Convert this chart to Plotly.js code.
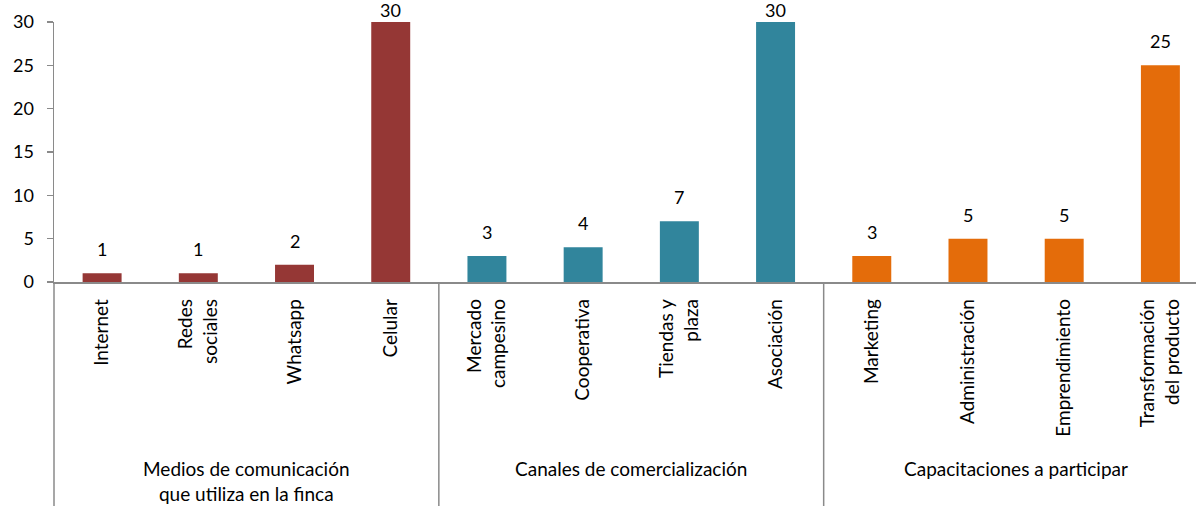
<!DOCTYPE html>
<html>
<head>
<meta charset="utf-8">
<script src="https://cdn.plot.ly/plotly-3.0.1.min.js"></script>
<style>html,body{margin:0;padding:0;background:#fff;}#chart{width:1196px;height:506px;}</style>
</head>
<body>
<div id="chart"></div>
<script>
// Data
const groupNames = ["Medios de comunicación<br>que utiliza en la finca", "Canales de comercialización", "Capacitaciones a participar"];
const mediosCats = ["Internet", "Redes<br>sociales", "Whatsapp", "Celular"];
const mediosVals = [1, 1, 2, 30];
const canalesCats = ["Mercado<br>campesino", "Cooperativa", "Tiendas y<br>plaza", "Asociación"];
const canalesVals = [3, 4, 7, 30];
const capacCats = ["Marketing", "Administración", "Emprendimiento", "Transformación<br>del producto"];
const capacVals = [3, 5, 5, 25];
const groupColors = ["#953735", "#31859C", "#E46C0A"];
const yTicks = [0, 5, 10, 15, 20, 25, 30];

const FONT = "Lato, 'Open Sans', sans-serif";
const FS = 19;
const groups = [
  {cats: mediosCats, vals: mediosVals},
  {cats: canalesCats, vals: canalesVals},
  {cats: capacCats, vals: capacVals}
];

const allCats = [].concat(mediosCats, canalesCats, capacCats);
const traces = groups.map((g, i) => ({
  type: "bar",
  x: g.cats,
  y: g.vals,
  marker: {color: groupColors[i]},
  width: 0.405,
  hoverinfo: "x+y",
  showlegend: false
}));

const W = 1196, H = 506, mL = 54, mT = 22, mB = 224;
const plotH = H - mT - mB;
const bottomPaper = -mB / plotH;
const groupLabelPaper = -173 / plotH;

const annotations = [];
const shapes = [];
let idx = 0;
groups.forEach((g, gi) => {
  g.cats.forEach((c, ci) => {
    const v = g.vals[ci];
    annotations.push({
      x: c, y: v, xref: "x", yref: "y", text: String(v), showarrow: false,
      yanchor: "bottom", yshift: v >= 29 ? -1 : 11,
      font: {family: FONT, size: 18, color: "#000"}
    });
  });
  const start = idx, end = idx + g.cats.length - 1;
  annotations.push({
    x: (start + end) / 2, y: groupLabelPaper, xref: "x", yref: "paper",
    text: groupNames[gi], showarrow: false, yanchor: "top",
    font: {family: FONT, size: FS, color: "#000"}
  });
  if (gi > 0) {
    shapes.push({type: "line", xref: "x", yref: "paper", x0: start - 0.5, x1: start - 0.5,
      y0: 0, y1: bottomPaper, line: {color: "#8a8a8a", width: 1.5}});
  }
  idx += g.cats.length;
});
// left border continuation of y axis below plot
shapes.push({type: "line", xref: "paper", yref: "paper", x0: 0, x1: 0, y0: 0, y1: bottomPaper,
  line: {color: "#8a8a8a", width: 1.5}});

const layout = {
  width: W, height: H,
  margin: {l: mL, r: 0, t: mT, b: mB, pad: 0},
  paper_bgcolor: "#fff", plot_bgcolor: "#fff",
  font: {family: FONT, size: FS, color: "#000"},
  bargap: 0.6,
  xaxis: {
    type: "category", categoryorder: "array", categoryarray: allCats,
    range: [-0.5, 11.37], tickangle: -90, ticks: "", showgrid: false,
    showline: true, linecolor: "#8a8a8a", linewidth: 1.5, zeroline: false,
    ticklabelstandoff: 8, tickfont: {family: FONT, size: FS, color: "#000"},
    fixedrange: true
  },
  yaxis: {
    range: [0, 30], tickvals: yTicks, ticks: "outside", ticklen: 6, tickwidth: 1.5,
    tickcolor: "#8a8a8a", showgrid: false, showline: true, linecolor: "#8a8a8a", linewidth: 1.5,
    zeroline: false, ticklabelstandoff: 9, tickfont: {family: FONT, size: 18, color: "#000"},
    fixedrange: true
  },
  annotations: annotations,
  shapes: shapes
};

Plotly.newPlot("chart", traces, layout, {displayModeBar: false, staticPlot: true});
</script>
</body>
</html>
